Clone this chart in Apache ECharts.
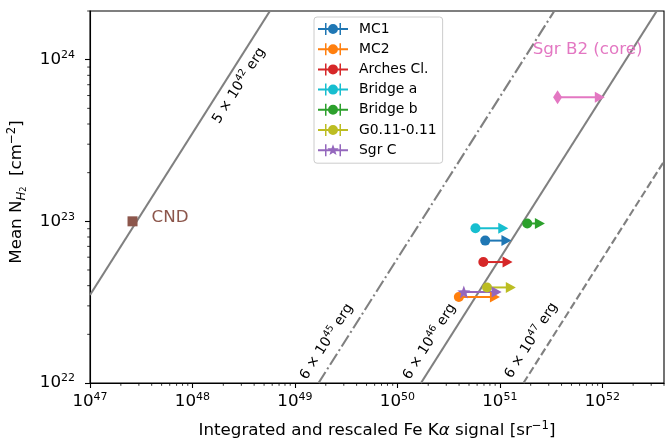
<!DOCTYPE html>
<html><head><meta charset="utf-8">
<script src="https://cdn.jsdelivr.net/npm/echarts@6/dist/echarts.min.js"></script>
<style>html,body{margin:0;padding:0;background:#fff}#c{width:665px;height:441px}</style>
</head><body><div id="c"></div>
<script>
// ---- data ----
const sourceNames = ['MC1', 'MC2', 'Arches Cl.', 'Bridge a', 'Bridge b', 'G0.11-0.11', 'Sgr C'];
const sourceColors = ['#1f77b4', '#ff7f0e', '#d62728', '#17becf', '#2ca02c', '#bcbd22', '#9467bd'];
const signalStart = [7.2e50, 3.98e50, 6.9e50, 5.78e50, 1.85e51, 7.5e50, 4.45e50];
const signalArrowEnd = [1.16e51, 8.95e50, 1.19e51, 1.08e51, 2.46e51, 1.28e51, 9.3e50];
const meanNH2 = [7.6e22, 3.4e22, 5.6e22, 9.06e22, 9.7e22, 3.9e22, 3.66e22];

const sgrB2Signal = [3.66e51, 9.46e51];
const sgrB2NH2 = 5.86e23;
const cndSignal = 2.6e47;
const cndNH2 = 1e23;

const energyMantissa = [5, 6, 6, 6];
const energyExponent = [42, 45, 46, 47];
const energyLineSignal = [[1e47, 5.7e48], [1.7e49, 3.4e51], [1.7e50, 3.4e52], [1.7e51, 4e52]];
const energyLineNH2 = [[3.5e22, 2e24], [1e22, 2e24], [1e22, 2e24], [1e22, 2.35e23]];
const energyLabelAt = [[2.85e48, 6.9e23], [2.04e49, 1.8e22], [2.06e50, 1.8e22], [2.03e51, 1.83e22]];

const xRange = [1e47, 4e52];
const yRange = [1e22, 2e24];
const xMinorTicks = [];
for (let d = 47; d <= 52; d++) for (let m = 2; m <= 9; m++) { const v = m * Math.pow(10, d); if (v <= xRange[1] * 1.0001) xMinorTicks.push(v); }
const yMinorTicks = [];
for (let d = 22; d <= 24; d++) for (let m = 2; m <= 9; m++) { const v = m * Math.pow(10, d); if (v <= yRange[1] * 1.0001) yMinorTicks.push(v); }

// ---- styling ----
const FONT = 'DejaVu Sans';
const GRAY = '#808080';
const lineTypes = ['solid', [13, 3.3, 2, 3.3], 'solid', [7.7, 3.3]];
const ARROW = 'path://M0,0 L9,5 L0,10 Z';
const STAR = 'path://M15,0 L16.47,3.98 L20.71,4.15 L17.38,6.77 L18.53,10.85 L15,8.5 L11.47,10.85 L12.62,6.77 L9.29,4.15 L13.53,3.98 Z';
const legendCircle = 'path://M0,5 H30 V7 H0 Z M7,0 H8.5 V12 H7 Z M21.5,0 H23 V12 H21.5 Z M10,6 A5,5 0 1,1 20,6 A5,5 0 1,1 10,6 Z';
const legendStar = 'path://M0,5 H30 V7 H0 Z M7,0 H8.5 V12 H7 Z M21.5,0 H23 V12 H21.5 Z M15,0 L16.47,3.98 L20.71,4.15 L17.38,6.77 L18.53,10.85 L15,8.5 L11.47,10.85 L12.62,6.77 L9.29,4.15 L13.53,3.98 Z';

const tickRich = {
  b: { fontSize: 16.7, fontFamily: FONT, color: '#000', lineHeight: 20 },
  s: { fontSize: 11, fontFamily: FONT, color: '#000', lineHeight: 13, verticalAlign: 'top' }
};
function powLabel(v) {
  const e = Math.round(Math.log10(v));
  return '{b|10}{s|' + e + '}';
}

const chart = echarts.init(document.getElementById('c'), null, { renderer: 'canvas' });

const series = [];
// energy lines
energyLineSignal.forEach((sx, i) => {
  series.push({
    type: 'line', silent: true, z: 1, symbol: 'none',
    data: [[sx[0], energyLineNH2[i][0]], [sx[1], energyLineNH2[i][1]]],
    lineStyle: { color: GRAY, width: 2.1, type: lineTypes[i] },
    clip: true
  });
});
// sources with lower-limit arrows
sourceNames.forEach((name, i) => {
  const isStar = name === 'Sgr C';
  series.push({
    type: 'line', name: name, z: 3,
    symbol: isStar ? STAR : 'circle', symbolSize: 10,
    itemStyle: { color: sourceColors[i], opacity: 1 },
    lineStyle: { color: sourceColors[i], width: 2 },
    emphasis: { disabled: true },
    data: [
      { value: [signalStart[i], meanNH2[i]], symbol: isStar ? STAR : 'circle', symbolSize: isStar ? 13 : 10 },
      { value: [signalArrowEnd[i], meanNH2[i]], symbol: ARROW, symbolSize: [10, 11] }
    ]
  });
});
// Sgr B2 core
series.push({
  type: 'line', z: 3, itemStyle: { color: '#e377c2', opacity: 1 }, lineStyle: { color: '#e377c2', width: 2 },
  emphasis: { disabled: true },
  data: [
    { value: [sgrB2Signal[0], sgrB2NH2], symbol: 'diamond', symbolSize: [9, 14],
      label: { show: true, position: 'top', distance: 4, offset: [30, -28], formatter: 'Sgr B2 (core)',
               color: '#e377c2', fontSize: 16.7, fontFamily: FONT } },
    { value: [sgrB2Signal[1], sgrB2NH2], symbol: ARROW, symbolSize: [10, 11] }
  ]
});
// CND
series.push({
  type: 'scatter', z: 3, symbol: 'rect', symbolSize: 10, itemStyle: { color: '#8c564b', opacity: 1 },
  emphasis: { disabled: true },
  data: [[cndSignal, cndNH2]],
  label: { show: true, position: 'right', distance: 14, offset: [0, -4], formatter: 'CND',
           color: '#8c564b', fontSize: 16.7, fontFamily: FONT }
});
// minor ticks
const minorData = xMinorTicks.map(v => [v, yRange[0], 0]).concat(yMinorTicks.map(v => [xRange[0], v, 1]));
series.push({
  type: 'custom', silent: true, z: 5, clip: false,
  data: minorData,
  renderItem: function (params, api) {
    const p = api.coord([api.value(0), api.value(1)]);
    const horiz = api.value(2) === 1;
    return {
      type: 'line',
      shape: horiz ? { x1: p[0] - 2.8, y1: p[1], x2: p[0], y2: p[1] } : { x1: p[0], y1: p[1], x2: p[0], y2: p[1] + 2.8 },
      style: { stroke: '#000', lineWidth: 0.8 }
    };
  }
});

const option = {
  animation: false,
  backgroundColor: '#fff',
  grid: { left: 90, right: 1, top: 11, bottom: 58, containLabel: false, outerBoundsMode: 'none',
          show: true, borderColor: '#000', borderWidth: 1.1, backgroundColor: 'transparent' },
  xAxis: {
    type: 'log', logBase: 10, min: xRange[0], max: xRange[1],
    name: '{n|Integrated and rescaled Fe K}{i|α}{n| signal [sr}{s|−1}{n|]}',
    nameLocation: 'middle', nameGap: 37,
    nameTextStyle: { rich: {
      n: { fontSize: 16.7, fontFamily: FONT, color: '#000', lineHeight: 22 },
      i: { fontSize: 16.7, fontFamily: FONT, color: '#000', fontStyle: 'italic', lineHeight: 22 },
      s: { fontSize: 11.7, fontFamily: FONT, color: '#000', lineHeight: 14, verticalAlign: 'top' }
    } },
    axisLine: { lineStyle: { color: '#000', width: 1.1 } },
    axisTick: { show: true, length: 5, lineStyle: { color: '#000', width: 1.1 } },
    minorTick: { show: false },
    splitLine: { show: false },
    axisLabel: { formatter: powLabel, rich: tickRich, margin: 9, showMaxLabel: false, showMinLabel: true }
  },
  yAxis: {
    type: 'log', logBase: 10, min: yRange[0], max: yRange[1],
    name: '{n|Mean N}{sub|H}{sub2|2}{n|  [cm}{sup|−2}{n|]}',
    nameLocation: 'middle', nameGap: 62, nameTextStyle: { padding: [0, 0, 0, 10], rich: {
      n: { fontSize: 16.7, fontFamily: FONT, color: '#000', lineHeight: 22 },
      sub: { fontSize: 11.7, fontFamily: FONT, color: '#000', fontStyle: 'italic', lineHeight: 14, verticalAlign: 'bottom' },
      sub2: { fontSize: 8.2, fontFamily: FONT, color: '#000', lineHeight: 10, verticalAlign: 'bottom' },
      sup: { fontSize: 11.7, fontFamily: FONT, color: '#000', lineHeight: 14, verticalAlign: 'top' }
    } },
    axisLine: { lineStyle: { color: '#000', width: 1.1 } },
    axisTick: { show: true, length: 5, lineStyle: { color: '#000', width: 1.1 } },
    minorTick: { show: false },
    splitLine: { show: false },
    axisLabel: { formatter: powLabel, rich: tickRich, margin: 15, showMaxLabel: false, showMinLabel: true }
  },
  legend: {
    orient: 'vertical', left: 314, top: 17,
    padding: [5, 6, 6, 4], itemGap: 6.2, itemWidth: 30, itemHeight: 14,
    backgroundColor: 'rgba(255,255,255,0.8)', borderColor: '#cccccc', borderWidth: 1, borderRadius: 3,
    selectedMode: false,
    textStyle: { fontSize: 13.9, fontFamily: FONT, color: '#000', padding: [0, 0, 0, 6], lineHeight: 14 },
    data: sourceNames.map(n => ({ name: n, icon: n === 'Sgr C' ? legendStar : legendCircle }))
  },
  series: series
};
chart.setOption(option);

// rotated energy labels along the lines
const labelRich = {
  n: { fontSize: 13.9, fontFamily: FONT, fill: '#000', lineHeight: 18 },
  s: { fontSize: 9.7, fontFamily: FONT, fill: '#000', lineHeight: 12, verticalAlign: 'top' }
};
const graphics = energyLabelAt.map((pt, i) => {
  const p = chart.convertToPixel({ gridIndex: 0 }, pt);
  return {
    type: 'text', x: p[0], y: p[1], rotation: 57.6 * Math.PI / 180, z: 10, silent: true,
    style: {
      text: '{n|' + energyMantissa[i] + ' × 10}{s|' + energyExponent[i] + '}{n| erg}',
      rich: labelRich, align: 'center', verticalAlign: 'middle', fill: '#000'
    }
  };
});
chart.setOption({ graphic: graphics });
</script>
</body></html>
